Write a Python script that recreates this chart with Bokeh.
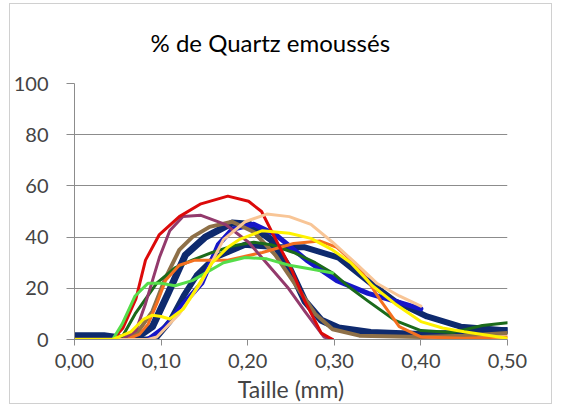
from bokeh.plotting import figure
from bokeh.embed import file_html
from bokeh.resources import INLINE
from bokeh.models import FixedTicker, Range1d, Title

title_text = "% de Quartz emoussés"
x_label = "Taille (mm)"
x_ticks = [0.0, 0.1, 0.2, 0.3, 0.4, 0.5]
x_tick_labels = ["0,00", "0,10", "0,20", "0,30", "0,40", "0,50"]
y_ticks = [0, 20, 40, 60, 80, 100]

navy_a_x = [0, 0.034, 0.055, 0.075, 0.090, 0.108, 0.128, 0.151, 0.182, 0.202, 0.227, 0.248, 0.266, 0.285, 0.305, 0.342, 0.4, 0.451, 0.5]
navy_a_y = [1.5, 1.5, 0.5, 1.5, 5, 18, 33, 40, 45.5, 45, 39, 28, 15, 7.5, 4.5, 2.7, 2, 2.5, 3.5]

navy_b_x = [0, 0.085, 0.095, 0.110, 0.126, 0.141, 0.162, 0.197, 0.235, 0.266, 0.305, 0.342, 0.370, 0.407, 0.446, 0.5]
navy_b_y = [0, 0, 1, 7, 17, 25, 32, 37, 36, 36, 32, 22, 15, 9, 5, 3.5]

blue_x = [0.085, 0.105, 0.126, 0.147, 0.166, 0.182, 0.207, 0.232, 0.268, 0.303, 0.339, 0.370, 0.4]
blue_y = [0, 5, 14, 22, 37, 43, 45, 41, 31, 23, 18, 15, 12]

brown_x = [0, 0.055, 0.071, 0.090, 0.105, 0.121, 0.136, 0.156, 0.182, 0.207, 0.232, 0.258, 0.278, 0.298, 0.329, 0.4, 0.45, 0.5]
brown_y = [0, 0, 2, 11, 24, 35, 40, 44, 46, 42, 33, 20, 10, 4, 1.5, 1, 1.5, 2.5]

dkgreen_x = [0, 0.044, 0.055, 0.070, 0.095, 0.116, 0.136, 0.159, 0.182, 0.207, 0.227, 0.253, 0.278, 0.298, 0.319, 0.339, 0.37, 0.4, 0.436, 0.471, 0.5]
dkgreen_y = [0, 0, 1, 10, 22, 28, 31, 34, 36.5, 38, 37, 34, 30, 26, 20, 15, 7.5, 3.5, 2.7, 5.5, 6.5]

orange_x = [0, 0.060, 0.075, 0.085, 0.095, 0.105, 0.121, 0.139, 0.177, 0.217, 0.253, 0.283, 0.303, 0.329, 0.354, 0.375, 0.4, 0.45, 0.5]
orange_y = [0, 0, 2, 6, 14, 23, 29, 31, 31, 34, 37.5, 38.5, 36, 28, 15, 5, 1, 0.5, 1]

purple_x = [0, 0.055, 0.071, 0.082, 0.098, 0.110, 0.125, 0.146, 0.174, 0.201, 0.224, 0.247, 0.266, 0.288, 0.298]
purple_y = [0, 0, 3.5, 14, 32, 42.5, 48, 48.5, 45, 38, 29, 20, 11, 1, 0]

red_x = [0, 0.044, 0.056, 0.071, 0.082, 0.098, 0.121, 0.146, 0.177, 0.201, 0.216, 0.231, 0.251, 0.266, 0.285, 0.298]
red_y = [0, 0, 4.5, 16, 31, 41, 48, 53, 56, 54, 50, 40, 27, 15, 2.5, 0]

ltgreen_x = [0, 0.044, 0.055, 0.070, 0.085, 0.100, 0.116, 0.136, 0.172, 0.197, 0.222, 0.248, 0.273, 0.298]
ltgreen_y = [0, 0, 6, 17, 22, 22, 21, 23, 30, 32, 31.5, 29, 27.5, 26]

peach_x = [0, 0.044, 0.085, 0.095, 0.121, 0.146, 0.172, 0.197, 0.222, 0.248, 0.273, 0.298, 0.324, 0.349, 0.375, 0.4]
peach_y = [0, 0, 0, 1, 10, 22, 39, 46, 49, 48, 45, 38, 30, 22, 17, 13]

yellow_x = [0, 0.044, 0.065, 0.080, 0.090, 0.100, 0.110, 0.126, 0.139, 0.159, 0.177, 0.190, 0.217, 0.248, 0.273, 0.298, 0.319, 0.344, 0.37, 0.4, 0.425, 0.45, 0.5]
yellow_y = [0, 0, 3, 8, 9.5, 9, 8, 12, 19, 30, 36, 39, 42.5, 41.5, 39.5, 35, 30, 21, 14, 7, 4.5, 3, 0.5]

series = [
    (navy_a_x, navy_a_y, "#0E2A6E", 7),
    (navy_b_x, navy_b_y, "#0E2A6E", 6),
    (blue_x, blue_y, "#1616C8", 5),
    (brown_x, brown_y, "#8E7048", 4),
    (dkgreen_x, dkgreen_y, "#1B6A1B", 3),
    (orange_x, orange_y, "#F47020", 3),
    (purple_x, purple_y, "#933A6C", 3),
    (red_x, red_y, "#DC0A0A", 3),
    (ltgreen_x, ltgreen_y, "#55DD4A", 3),
    (peach_x, peach_y, "#F8C596", 3),
    (yellow_x, yellow_y, "#FFF200", 3),
]

p = figure(width=543, height=401, output_backend="svg", toolbar_location=None,
           x_range=Range1d(0, 0.5), y_range=Range1d(0, 100),
           min_border_left=62, min_border_right=46, min_border_top=79, min_border_bottom=66,
           title=title_text)
p.styles = {"border": "1px solid #D0D0D0", "margin-left": "9px", "margin-top": "3px"}

p.title.text_font = "Lato"
p.title.text_font_size = "24px"
p.title.text_font_style = "normal"
p.title.text_color = "#000000"
p.title.align = "left"
p.title.offset = 76

# empty spacer between the title and the plot frame
p.add_layout(Title(text=" ", text_font_size="18px", standoff=0), "above")

for xs, ys, col, w in series:
    p.line(xs, ys, line_color=col, line_width=w, line_join="round", line_cap="round")

p.outline_line_color = None
p.xgrid.grid_line_color = None
p.ygrid.grid_line_color = "#8C8C8C"
p.ygrid.grid_line_width = 1

p.xaxis.ticker = FixedTicker(ticks=x_ticks)
p.xaxis.major_label_overrides = {t: l for t, l in zip(x_ticks, x_tick_labels)}
p.xaxis.axis_label = x_label
p.xaxis.axis_label_text_font = "Lato"
p.xaxis.axis_label_text_font_size = "23px"
p.xaxis.axis_label_text_font_style = "normal"
p.xaxis.axis_label_standoff = 4
p.xaxis.axis_line_color = "#8C8C8C"
p.xaxis.major_tick_line_color = "#8C8C8C"
p.xaxis.major_tick_out = 6
p.xaxis.major_tick_in = 0
p.xaxis.minor_tick_line_color = None
p.xaxis.major_label_text_font = "Lato"
p.xaxis.major_label_text_font_size = "20px"
p.xaxis.major_label_standoff = 8

p.yaxis.ticker = FixedTicker(ticks=y_ticks)
p.yaxis.axis_line_color = "#8C8C8C"
p.yaxis.major_tick_line_color = "#8C8C8C"
p.yaxis.major_tick_out = 8
p.yaxis.major_tick_in = 0
p.yaxis.minor_tick_line_color = None
p.yaxis.major_label_text_font = "Lato"
p.yaxis.major_label_text_font_size = "20px"
p.yaxis.major_label_standoff = 18

open("out.html", "w").write(file_html(p, INLINE))
